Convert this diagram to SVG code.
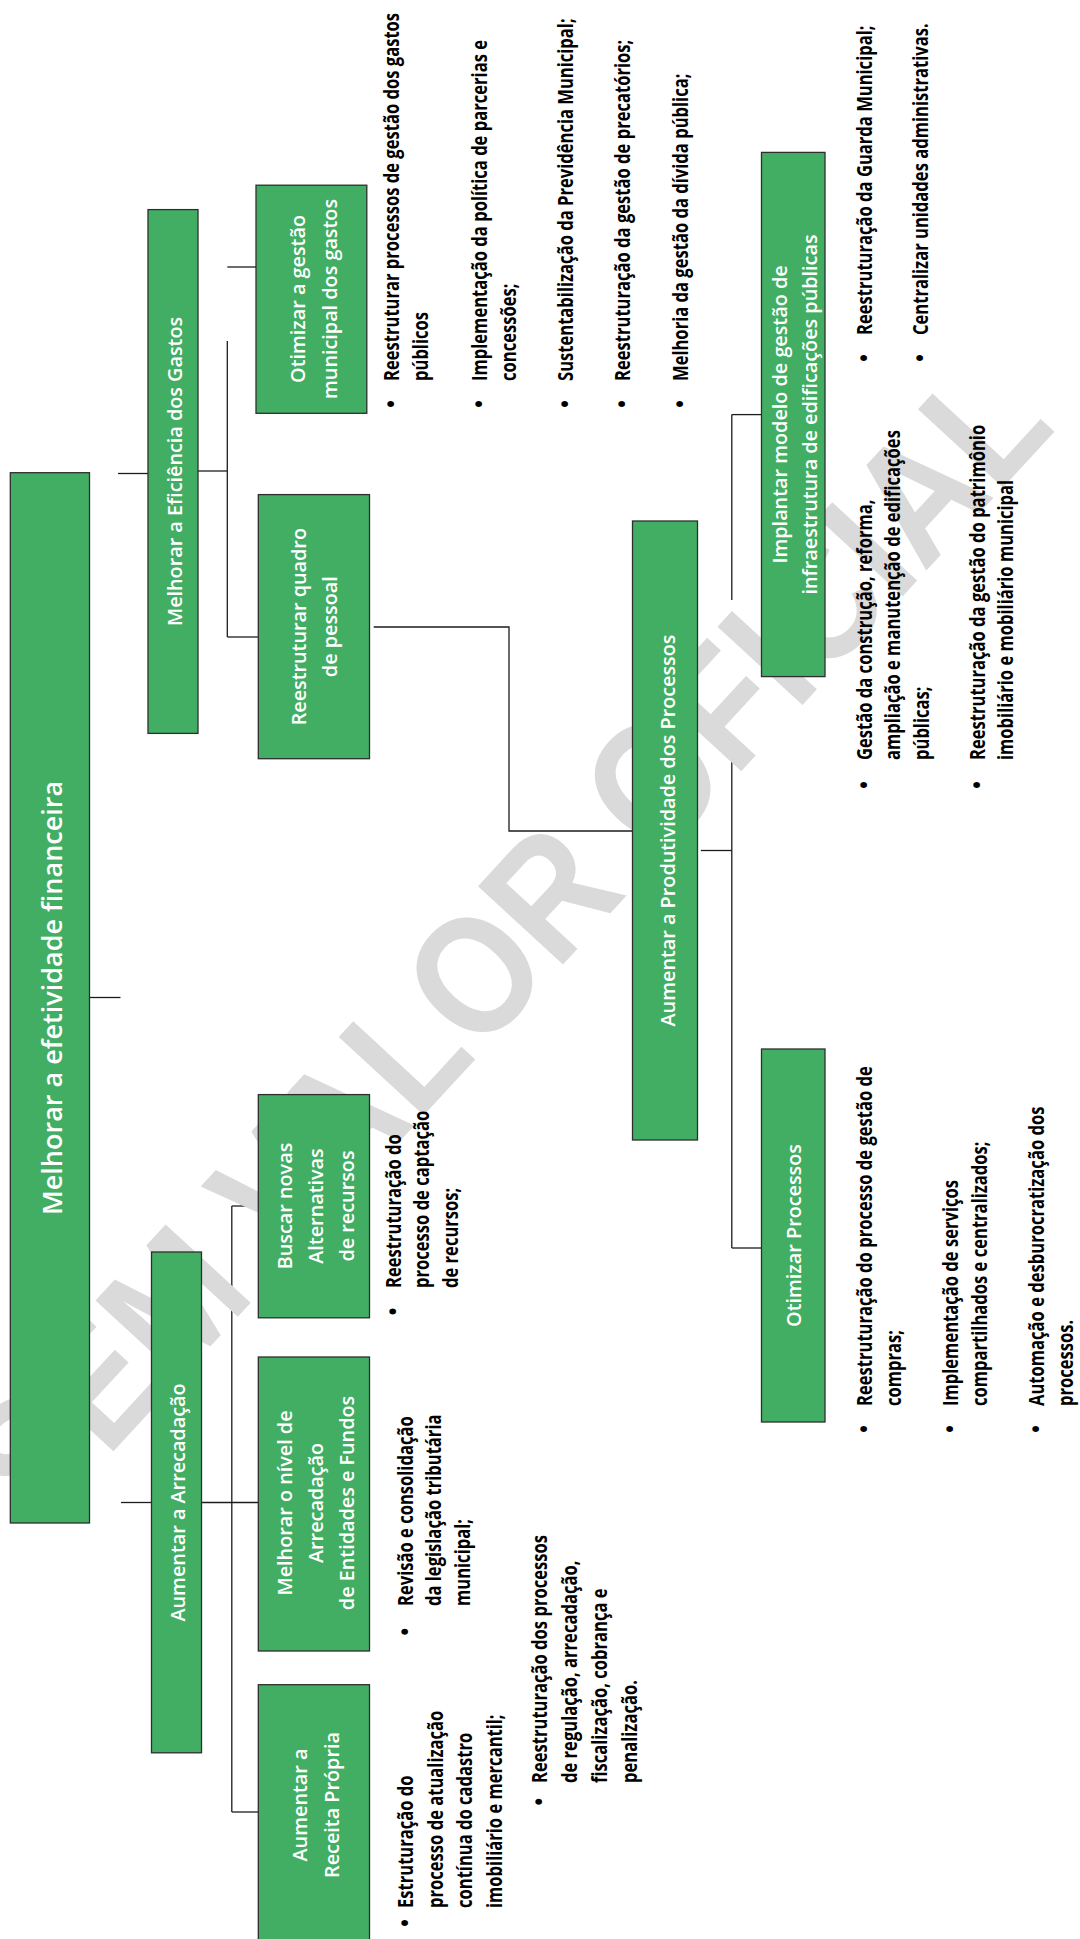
<svg xmlns="http://www.w3.org/2000/svg" width="1080" height="1939" viewBox="0 0 1080 1939">
<style>
.bg{fill:#ffffff}
.box{fill:#42ae63;stroke:#2e2e2e;stroke-width:1.3}
.lbl{font-family:'Open Sans','Noto Sans',sans-serif;font-weight:600;font-size:19.8px;fill:#ffffff;text-anchor:middle}
.rootl{font-size:27px}
.bt{font-family:'Open Sans','Noto Sans',sans-serif;font-weight:700;font-size:21px;fill:#000000}
.bul{font-family:'Open Sans','Noto Sans',sans-serif;font-weight:700;font-size:21px;fill:#000000;text-anchor:middle}
.conn path{fill:none;stroke:#1c1c1c;stroke-width:1.3}
.wm{font-family:'Liberation Sans',Arial,sans-serif;font-weight:700;font-size:168px;fill:#dadada}
</style>
<rect class="bg" x="0" y="0" width="1080" height="1939"/>

<g id="connectors" class="conn">
  <path d="M89.5 997.5 H120.5"/>
  <path d="M118 473.5 H148"/>
  <path d="M121 1502.5 H151.5"/>
  <path d="M198 471 H227.3"/>
  <path d="M227.3 341 V637"/>
  <path d="M227.3 637 H258.3"/>
  <path d="M227.3 267 H256"/>
  <path d="M373.7 627 H509 V831 H632.5"/>
  <path d="M700.8 850.5 H731.8"/>
  <path d="M731.8 414.6 V600"/>
  <path d="M731.8 750 V1248"/>
  <path d="M731.8 414.6 H761.5"/>
  <path d="M731.8 1248 H761.5"/>
  <path d="M201.5 1502.5 H258.3"/>
  <path d="M231.8 1206 V1812"/>
  <path d="M231.8 1206 H258.3"/>
  <path d="M231.8 1812 H258.3"/>
</g>

<g id="watermark">
  <text class="wm" transform="translate(40,1531) rotate(-47.3) scale(0.88,1)">SEM VALOR OFICIAL</text>
</g>

<g id="node-root">
  <rect class="box" x="10.3" y="472.7" width="79.2" height="1050.3"/>
  <text class="lbl rootl" transform="translate(62,998) rotate(-90)">Melhorar a efetividade financeira</text>
</g>

<g id="node-eficiencia">
  <rect class="box" x="148" y="209.6" width="50" height="523.8"/>
  <text class="lbl" transform="translate(182,471.5) rotate(-90)">Melhorar a Eficiência dos Gastos</text>
</g>

<g id="node-arrecadacao">
  <rect class="box" x="151.5" y="1252" width="50" height="500.8"/>
  <text class="lbl" transform="translate(185,1502.5) rotate(-90)">Aumentar a Arrecadação</text>
</g>

<g id="node-otimizar-gastos">
  <rect class="box" x="256" y="185.2" width="110.8" height="228.1"/>
  <text class="lbl" transform="translate(305,299) rotate(-90)"><tspan x="0" y="0">Otimizar a gestão</tspan><tspan x="0" y="32">municipal dos gastos</tspan></text>
</g>

<g id="node-reestruturar-pessoal">
  <rect class="box" x="258.3" y="494.6" width="111.2" height="264.1"/>
  <text class="lbl" transform="translate(306,626.7) rotate(-90)"><tspan x="0" y="0">Reestruturar quadro</tspan><tspan x="0" y="31">de pessoal</tspan></text>
</g>

<g id="node-buscar">
  <rect class="box" x="258.3" y="1094.6" width="111.2" height="223.2"/>
  <text class="lbl" transform="translate(291.7,1206) rotate(-90)"><tspan x="0" y="0">Buscar novas</tspan><tspan x="0" y="31.3">Alternativas</tspan><tspan x="0" y="62.3">de recursos</tspan></text>
</g>

<g id="node-nivel">
  <rect class="box" x="258.3" y="1357" width="111.2" height="294"/>
  <text class="lbl" transform="translate(291.7,1503) rotate(-90)"><tspan x="0" y="0">Melhorar o nível de</tspan><tspan x="0" y="31.3">Arrecadação</tspan><tspan x="0" y="62.3">de Entidades e Fundos</tspan></text>
</g>

<g id="node-receita">
  <rect class="box" x="258.3" y="1684.7" width="111.2" height="262"/>
  <text class="lbl" transform="translate(306.7,1805) rotate(-90)"><tspan x="0" y="0">Aumentar a</tspan><tspan x="0" y="32.3">Receita Própria</tspan></text>
</g>

<g id="node-produtividade">
  <rect class="box" x="632.5" y="521" width="65" height="619"/>
  <text class="lbl" transform="translate(675,830.5) rotate(-90)">Aumentar a Produtividade dos Processos</text>
</g>

<g id="node-implantar">
  <rect class="box" x="761.5" y="152.4" width="63.5" height="524.2"/>
  <text class="lbl" transform="translate(786.7,414.5) rotate(-90)"><tspan x="0" y="0">Implantar modelo de gestão de</tspan><tspan x="0" y="30">infraestrutura de edificações públicas</tspan></text>
</g>

<g id="node-otimizar-processos">
  <rect class="box" x="761.5" y="1049" width="63.5" height="373"/>
  <text class="lbl" transform="translate(801,1235.5) rotate(-90)">Otimizar Processos</text>
</g>

<g id="notes-otimizar-gastos">
  <text class="bul" transform="translate(399,404) rotate(-90)">•</text>
  <text class="bt" transform="translate(399,381) rotate(-90) scale(0.79,1)"><tspan x="0" y="0">Reestruturar processos de gestão dos gastos</tspan><tspan x="0" y="29">públicos</tspan></text>
  <text class="bul" transform="translate(487,404) rotate(-90)">•</text>
  <text class="bt" transform="translate(487,381) rotate(-90) scale(0.79,1)"><tspan x="0" y="0">Implementação da política de parcerias e</tspan><tspan x="0" y="29">concessões;</tspan></text>
  <text class="bul" transform="translate(573,404) rotate(-90)">•</text>
  <text class="bt" transform="translate(573,381) rotate(-90) scale(0.79,1)">Sustentabilização da Previdência Municipal;</text>
  <text class="bul" transform="translate(630,404) rotate(-90)">•</text>
  <text class="bt" transform="translate(630,381) rotate(-90) scale(0.79,1)">Reestruturação da gestão de precatórios;</text>
  <text class="bul" transform="translate(688,404) rotate(-90)">•</text>
  <text class="bt" transform="translate(688,381) rotate(-90) scale(0.79,1)">Melhoria da gestão da dívida pública;</text>
</g>

<g id="notes-implantar">
  <text class="bul" transform="translate(872,358) rotate(-90)">•</text>
  <text class="bt" transform="translate(872,335) rotate(-90) scale(0.79,1)">Reestruturação da Guarda Municipal;</text>
  <text class="bul" transform="translate(928,358) rotate(-90)">•</text>
  <text class="bt" transform="translate(928,335) rotate(-90) scale(0.79,1)">Centralizar unidades administrativas.</text>
  <text class="bul" transform="translate(872,785) rotate(-90)">•</text>
  <text class="bt" transform="translate(872,760) rotate(-90) scale(0.79,1)"><tspan x="0" y="0">Gestão da construção, reforma,</tspan><tspan x="0" y="28.5">ampliação e manutenção de edificações</tspan><tspan x="0" y="57">públicas;</tspan></text>
  <text class="bul" transform="translate(985,785) rotate(-90)">•</text>
  <text class="bt" transform="translate(985,760) rotate(-90) scale(0.79,1)"><tspan x="0" y="0">Reestruturação da gestão do patrimônio</tspan><tspan x="0" y="28.5">imobiliário e mobiliário municipal</tspan></text>
</g>

<g id="notes-otimizar-processos">
  <text class="bul" transform="translate(872,1429) rotate(-90)">•</text>
  <text class="bt" transform="translate(872,1406) rotate(-90) scale(0.79,1)"><tspan x="0" y="0">Reestruturação do processo de gestão de</tspan><tspan x="0" y="29">compras;</tspan></text>
  <text class="bul" transform="translate(958,1429) rotate(-90)">•</text>
  <text class="bt" transform="translate(958,1406) rotate(-90) scale(0.79,1)"><tspan x="0" y="0">Implementação de serviços</tspan><tspan x="0" y="29">compartilhados e centralizados;</tspan></text>
  <text class="bul" transform="translate(1044,1429) rotate(-90)">•</text>
  <text class="bt" transform="translate(1044,1406) rotate(-90) scale(0.79,1)"><tspan x="0" y="0">Automação e desburocratização dos</tspan><tspan x="0" y="29">processos.</tspan></text>
</g>

<g id="notes-buscar">
  <text class="bul" transform="translate(401,1311.5) rotate(-90)">•</text>
  <text class="bt" transform="translate(401,1288) rotate(-90) scale(0.79,1)"><tspan x="0" y="0">Reestruturação do</tspan><tspan x="0" y="28.5">processo de captação</tspan><tspan x="0" y="57">de recursos;</tspan></text>
</g>

<g id="notes-nivel">
  <text class="bul" transform="translate(413,1631.7) rotate(-90)">•</text>
  <text class="bt" transform="translate(413,1606) rotate(-90) scale(0.79,1)"><tspan x="0" y="0">Revisão e consolidação</tspan><tspan x="0" y="28.5">da legislação tributária</tspan><tspan x="0" y="57">municipal;</tspan></text>
  <text class="bul" transform="translate(547,1801.7) rotate(-90)">•</text>
  <text class="bt" transform="translate(547,1783) rotate(-90) scale(0.79,1)"><tspan x="0" y="0">Reestruturação dos processos</tspan><tspan x="0" y="30">de regulação, arrecadação,</tspan><tspan x="0" y="60">fiscalização, cobrança e</tspan><tspan x="0" y="90">penalização.</tspan></text>
</g>

<g id="notes-receita">
  <text class="bul" transform="translate(413,1923) rotate(-90)">•</text>
  <text class="bt" transform="translate(413,1908) rotate(-90) scale(0.79,1)"><tspan x="0" y="0">Estruturação do</tspan><tspan x="0" y="29.7">processo de atualização</tspan><tspan x="0" y="59.4">contínua do cadastro</tspan><tspan x="0" y="89.1">imobiliário e mercantil;</tspan></text>
</g>
</svg>
